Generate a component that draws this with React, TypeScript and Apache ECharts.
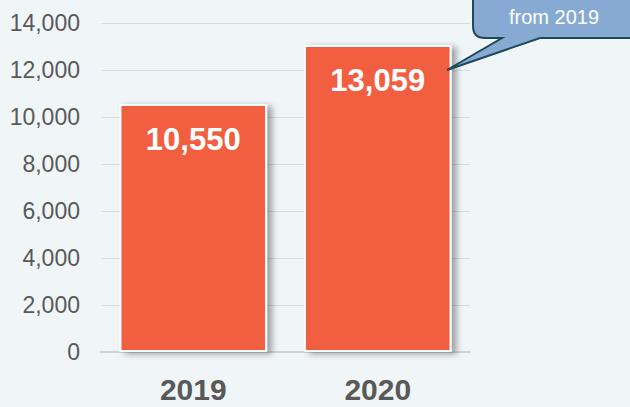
import React, { useEffect, useRef } from "react";
import * as echarts from "echarts";

const categories = ["2019", "2020"];
const values = [10550, 13059];
const yTicks = { min: 0, max: 14000, interval: 2000 };
const calloutText = "from 2019";

const calloutPath =
  "M 473 -10 L 473 26 Q 473 38 485 38 L 502 38 L 447 70 L 540 38 L 640 38 L 640 -10 Z";

let registered = false;
function ensureShape() {
  if (registered) return;
  echarts.graphic.registerShape("logo", echarts.graphic.extendPath(calloutPath, {}) as any);
  registered = true;
}

const fmt = (v: number) => v.toLocaleString("en-US");
const FONT = "Liberation Sans, Arial, sans-serif";

export default function App() {
  const ref = useRef<HTMLDivElement>(null);
  useEffect(() => {
    if (!ref.current) return;
    ensureShape();
    const chart = echarts.init(ref.current, undefined, { renderer: "svg" });
    chart.setOption({
      animation: false,
      backgroundColor: "#f0f5f8",
      grid: { left: 101, right: 160, top: 23, bottom: 55 },
      xAxis: {
        type: "category",
        data: categories,
        axisLine: { show: true, lineStyle: { color: "#cfd3d6", width: 2 } },
        axisTick: { show: false },
        axisLabel: {
          color: "#595959",
          fontFamily: FONT,
          fontSize: 30,
          fontWeight: "bold",
          margin: 22,
        },
      },
      yAxis: {
        type: "value",
        min: yTicks.min,
        max: yTicks.max,
        interval: yTicks.interval,
        axisLine: { show: false },
        axisTick: { show: false },
        splitLine: { lineStyle: { color: "#d9dcdf", width: 1 } },
        axisLabel: {
          color: "#595959",
          fontFamily: FONT,
          fontSize: 23,
          margin: 21,
          formatter: (v: number) => fmt(v),
        },
      },
      series: [
        {
          type: "bar",
          data: values,
          barWidth: "80%",
          itemStyle: {
            color: "#f15f40",
            borderColor: "#ffffff",
            borderWidth: 2,
            shadowColor: "rgba(0,0,0,0.35)",
            shadowBlur: 6,
            shadowOffsetX: 5,
            shadowOffsetY: 2,
          },
          label: {
            show: true,
            position: "insideTop",
            distance: 20,
            color: "#ffffff",
            fontFamily: FONT,
            fontSize: 31,
            fontWeight: "bold",
            formatter: (p: any) => fmt(p.value),
          },
        },
      ],
      graphic: [
        {
          type: "logo",
          x: 0,
          y: 0,
          z: 100,
          style: { fill: "#87aad2", stroke: "#1c4a5a", lineWidth: 2 },
        },
        {
          type: "text",
          x: 554,
          y: 17,
          z: 101,
          style: {
            text: calloutText,
            fill: "#ffffff",
            fontFamily: FONT,
            fontSize: 20,
            textAlign: "center",
            textVerticalAlign: "middle",
          },
        },
      ],
    });
    return () => chart.dispose();
  }, []);
  return (
    <div
      ref={ref}
      style={{ position: "fixed", left: 0, top: 0, width: 630, height: 407 }}
    />
  );
}
